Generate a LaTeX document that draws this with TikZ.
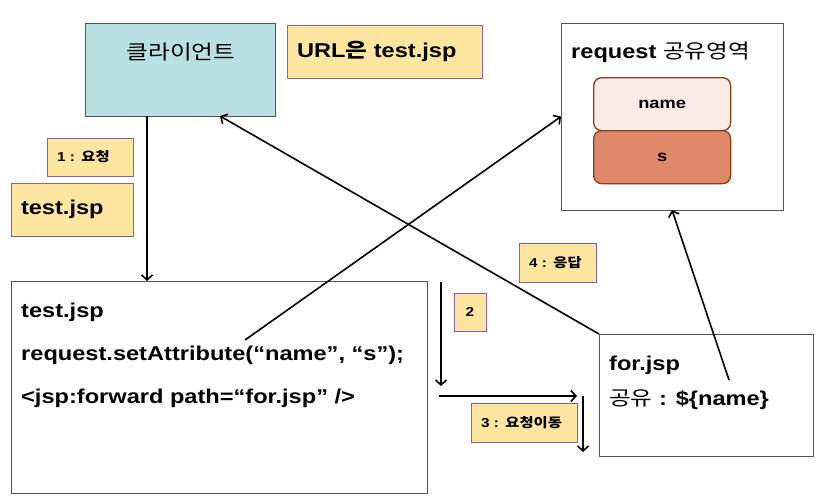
\documentclass[tikz,border=0pt]{standalone}
\usepackage{fontspec}
\setmainfont[FakeStretch=1.18]{Liberation Sans}
\newfontfamily\kr[FakeStretch=1.18]{Noto Sans CJK KR}
\usetikzlibrary{arrows.meta}
\definecolor{clientfill}{HTML}{B9E0E3}
\definecolor{lblfill}{HTML}{FFE6A0}
\definecolor{lblline}{HTML}{8A5FB0}
\definecolor{namefill}{HTML}{F9EAE5}
\definecolor{sfill}{HTML}{E0876A}
\definecolor{brownline}{HTML}{7B4416}
\definecolor{boxline}{HTML}{555555}
\begin{document}
\begin{tikzpicture}[x=1pt,y=-1pt,
 box/.style={draw=boxline, line width=1pt, inner sep=0pt, outer sep=0pt, anchor=north west},
 lbl/.style={draw=lblline, fill=lblfill, line width=0.9pt, inner xsep=10pt, inner ysep=0pt, outer sep=0pt, anchor=north west, align=left, font=\bfseries\fontsize{13}{15}\selectfont},
 bigfont/.style={font=\bfseries\fontsize{20}{24}\selectfont},
 txt/.style={bigfont, inner sep=0pt, anchor=base west},
 cell/.style={draw=brownline, rounded corners=8pt, line width=1.3pt, minimum width=137pt, minimum height=53pt, anchor=north west, inner sep=0pt, font=\bfseries\fontsize{15.5}{18}\selectfont},
 arr/.style={line width=1.6pt, -{Straight Barb[length=5pt,width=11pt]}}]
\useasboundingbox (0,0) rectangle (824,501);

% client
\node[box, fill=clientfill, minimum width=190pt, minimum height=93pt] (client) at (85,23) {};
\node[font=\kr\fontsize{20}{24}\selectfont, inner sep=0pt] (clienttxt) at (181,52) {클라이언트};

% labels
\node[lbl, bigfont, minimum height=53pt, text width=175pt] (url) at (287,25) {URL{\kr 은} test.jsp};
\node[lbl, minimum height=38pt, text width=66pt] (l1) at (47,138) {1 : {\kr 요청}};
\node[lbl, bigfont, minimum height=53pt, text width=102pt] (l1f) at (11,183) {test.jsp};
\node[lbl, minimum height=39pt, text width=57pt] (l4) at (519,243) {4 : {\kr 응답}};
\node[lbl, inner xsep=0pt, minimum height=38pt, minimum width=32pt, align=center] (l2) at (454,293) {2};
\node[lbl, minimum height=39pt, text width=86pt] (l3) at (471,403) {3 : {\kr 요청이동}};

% test.jsp box
\node[box, minimum width=416pt, minimum height=212pt] (testbox) at (11,281) {};
\node[txt] (t1) at (21,317) {test.jsp};
\node[txt] (t2) at (21,360) {request.setAttribute(“name”, “s”);};
\node[txt] (t3) at (21,403) {<jsp:forward path=“for.jsp” />};

% request box
\node[box, minimum width=222pt, minimum height=187pt] (req) at (561,23) {};
\node[bigfont, inner sep=0pt, anchor=west] (reqtxt) at (571,52) {request {\kr\mdseries 공유영역}};
\node[cell, fill=namefill] (name) at (593,77) {name};
\node[cell, fill=sfill] (sval) at (593,130) {s};

% for.jsp box
\node[box, minimum width=214pt, minimum height=122pt] (forbox) at (599,334) {};
\node[txt] (f1) at (609,370) {for.jsp};
\node[txt] (f2) at (609,405) {{\kr\mdseries 공유} : \$\{name\}};

% free ends
\coordinate (setp) at (245,340);
\coordinate (forp) at (729,380);
\coordinate (a2s) at (441,282);
\coordinate (a2e) at (441,386);
\coordinate (hs) at (439,396);
\coordinate (he) at (577,396);
\coordinate (a3s) at (583,396);
\coordinate (a3e) at (583,452);

% connectors
\draw[arr] ([xshift=62pt]client.south west) -- ([xshift=62pt]client.south west |- testbox.north);
\draw[arr] (setp) -- (req.west);
\draw[arr] (forbox.north west) -- ([xshift=135pt]client.south west);
\draw[arr] (forp) -- (req.south);
\draw[arr] (a2s) -- (a2e);
\draw[arr] (hs) -- (he);
\draw[arr] (a3s) -- (a3e);
\end{tikzpicture}
\end{document}
